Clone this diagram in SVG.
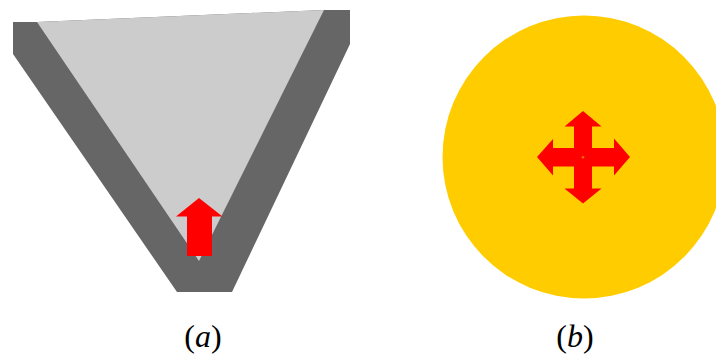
<svg xmlns="http://www.w3.org/2000/svg" width="716" height="360" viewBox="0 0 716 360">
<style>
.dark{fill:#666666}
.light{fill:#cccccc}
.red{fill:#ff0000}
.yellow{fill:#ffcc00}
.lbl{font-family:"Liberation Serif","Times New Roman",serif;font-size:32px;fill:#000}
.it{font-style:italic}
</style>
<rect width="716" height="360" fill="#ffffff"/>
<g id="cone">
<polygon class="dark" points="13,22 37,22 324,10 350,10 350,44 232,292 177,292 13,54"/>
<polygon class="light" points="37,22 324,10 199,261"/>
<polygon class="red" points="199,198 222.5,216.5 212,216.5 212,256 187,256 187,216.5 176,216.5"/>
</g>
<g id="disc">
<circle class="yellow" cx="584" cy="157" r="141.5"/>
<polygon class="red" points="583,111 601.5,126.5 592,126.5 592,148 614,148 614,138.5 630,157 614,175.5 614,166.5 592,166.5 592,188.5 601.5,188.5 583,203.5 564.5,188.5 574,188.5 574,166.5 553,166.5 553,175.5 537,157 553,139 553,148 574,148 574,126.5 564.5,126.5"/>
<circle cx="583" cy="157.3" r="1.3" fill="#ff6a00"/>
</g>
<g id="labels">
<text class="lbl" x="203" y="347" text-anchor="middle">(<tspan class="it">a</tspan>)</text>
<text class="lbl" x="575" y="347" text-anchor="middle">(<tspan class="it">b</tspan>)</text>
</g>
</svg>
